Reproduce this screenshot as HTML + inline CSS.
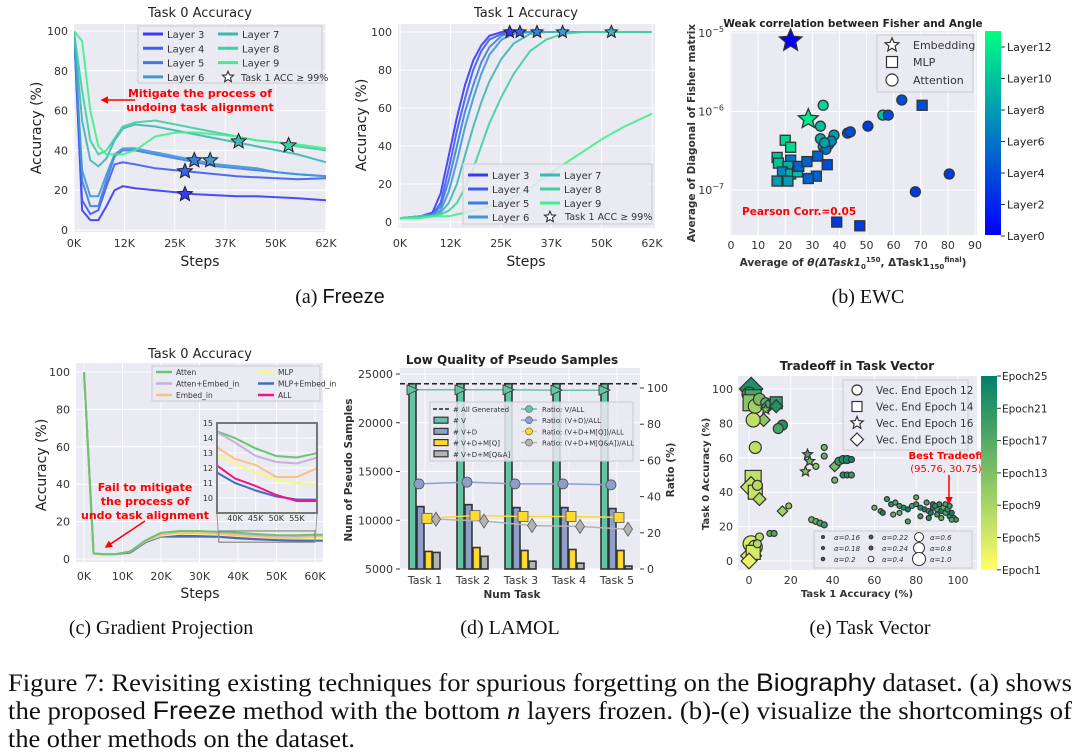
<!DOCTYPE html>
<html><head><meta charset="utf-8"><style>
html,body{margin:0;padding:0;background:#fff;}
svg{display:block;font-family:"DejaVu Sans","Liberation Sans",sans-serif;}
</style></head><body>
<svg id="fig" width="1080" height="753" viewBox="0 0 1080 753" xmlns="http://www.w3.org/2000/svg">
<defs>
<linearGradient id="winter" x1="0" y1="1" x2="0" y2="0"><stop offset="0" stop-color="#0000ff"/><stop offset="1" stop-color="#00ff80"/></linearGradient>
<linearGradient id="summer" x1="0" y1="1" x2="0" y2="0"><stop offset="0" stop-color="#ffff66"/><stop offset="1" stop-color="#008066"/></linearGradient>
<clipPath id="clipA"><rect x="74" y="24" width="252" height="208"/></clipPath>
<clipPath id="clipA2"><rect x="398" y="24" width="257" height="204"/></clipPath>
<clipPath id="clipC"><rect x="76" y="363" width="247" height="199"/></clipPath>
<clipPath id="clipIn"><rect x="217" y="423" width="100" height="90"/></clipPath>
<marker id="arr" viewBox="0 0 10 10" refX="8" refY="5" markerWidth="5" markerHeight="5" orient="auto"><path d="M0,0 L10,5 L0,10 z" fill="#f00"/></marker>
</defs>
</svg>
<script>
// ---------- DATA ----------
// (a) Task 0 accuracy under Freeze
const aSteps = [0,2,4,6,8,10,12,15,20,25,30,35,40,45,50,55,62];
const aL3 = [100,10,5,5,12,20,22,21,20,19,18,17.5,17,17,16.5,16,15];
const aL4 = [100,15,8,10,22,33,34,33,31,30,29,28,27,26.5,26,25.5,26];
const aL5 = [100,25,12,12,25,37,40,40,38,36,34,32,31,30,29,28,27];
const aL6 = [100,30,17,17,28,38,41,41,39,37,35,33,32,31,29,28,27];
const aL7 = [100,55,35,32,36,45,51,53,52,50,48,46,44,42,40,38,34];
const aL8 = [100,70,45,38,40,46,52,54,55,53,51,49,47,45,44,42,40];
const aL9 = [100,95,60,42,38,38,38,40,47,49,49,48,47,45,44,43,41];
const aStarX = [27.3,27.3,29.6,33.5,40.5,52.8];
const aStarY = [18,29.5,35,35,44.5,42.5];
// (a2) Task 1 accuracy
const bSteps = [0,5,8,10,12,14,16,18,20,22,25,28,32,36,40,45,50,55,62];
const bL3 = [2,3,5,15,35,55,72,85,93,98,100,100,100,100,100,100,100,100,100];
const bL4 = [2,3,4,10,28,48,65,80,90,96,99,100,100,100,100,100,100,100,100];
const bL5 = [2,3,4,8,22,40,58,72,84,92,98,100,100,100,100,100,100,100,100];
const bL6 = [2,3,4,6,16,32,50,65,78,88,96,99,100,100,100,100,100,100,100];
const bL7 = [2,3,3,5,10,20,35,50,63,74,86,94,99,100,100,100,100,100,100];
const bL8 = [2,3,3,4,6,10,18,28,40,52,66,78,90,96,99,100,100,100,100];
const bL9 = [2,2,3,3,3,4,5,6,7,8,10,13,18,24,30,37,44,50,57];
const bStarX = [27,29.5,33.7,40,52];
// (b) EWC scatter
const ewcAngle = [22,28.5, 34,33,63,56,58,50.5,43,44,38,33,34,36,35,37,34.5,68,80.5, 70.5,20,22,17,17.5,22,21,19,22,24.5,25,28,32,35.5,31.5,28.5,17,21,39,47.5];
const ewcFisher = [8e-6,8e-7, 1.2e-6,6.5e-7,1.4e-6,9e-7,9e-7,6.5e-7,5.3e-7,5.5e-7,5e-7,4.5e-7,3.6e-7,3.8e-7,3.3e-7,4.2e-7,4e-7,9.5e-8,1.6e-7, 1.2e-6,4.3e-7,3.5e-7,2.6e-7,2.2e-7,2.4e-7,2e-7,1.7e-7,1.6e-7,1.7e-7,2e-7,2.3e-7,2.7e-7,2.1e-7,1.5e-7,1.4e-7,1.3e-7,1.3e-7,3.9e-8,3.5e-8];
const ewcLayer = [0,12, 11,10,4,10,4,3,4,4,8,9,9,9,6,7,8,3,3, 4,11,11,10,10,6,9,7,9,10,5,5,5,4,5,5,8,8,3,3];
const ewcType = ['s','s','c','c','c','c','c','c','c','c','c','c','c','c','c','c','c','c','c','q','q','q','q','q','q','q','q','q','q','q','q','q','q','q','q','q','q','q','q'];
// (c) Gradient projection
const cSteps = [0,2.5,5,8,12,16,20,25,30,35,40,45,50,55,60,62];
const cAtten = [100,3,2.5,2.5,4,10,14,15,15,14.5,14,13.3,12.8,12.7,13,13];
const cAttEmb = [100,3,2.5,2.5,4,10,14,14.8,14.8,14.5,13.7,12.8,12.4,12.3,12.7,12.7];
const cEmbed = [100,3,2.5,2.5,4,9.5,13,14,13.8,13.5,12.6,12.2,11.4,11.4,12,12.1];
const cMLP = [100,3,2.5,2.5,4,9.5,12.5,13.5,13.3,13,12.3,11.7,11.2,11,10.9,10.9];
const cMLPEmb = [100,3,2.5,2.5,3.5,9,12,12,12,11.8,11,10.5,10.1,9.9,9.9,9.9];
const cAll = [100,3,2.5,2.5,3.5,9,12.5,12.8,12.6,12.3,11.3,10.8,10.2,9.8,9.8,9.8];
// (d) LAMOL
const dTasks = ['Task 1','Task 2','Task 3','Task 4','Task 5'];
const dV = [24000,24000,24000,24000,24000];
const dVD = [11400,11600,11300,11300,11200];
const dVDQ = [6800,7200,6900,7000,6900];
const dVDQA = [6700,6300,5800,5600,5300];
const dAll = 24000;
const rV = [99,99,99,98.8,98.8];
const rVD = [47,48,47,47,46.5];
const rVDQ = [28,29.5,29,29,28.5];
const rVDQA = [27.5,26.5,24,23.5,22];
// (e) Task vector scatter
const eT1 = [1,0,2,1,3,5,8,9,13,13,8,7,2,16,14,3, 28,29,32,27,36,36,41,43,45,47,49,45,47,49,41, 2,1,3,4,5,16,19,10,12,30,32,34,36, 1,3,1,2,5,4,0, 60,63,66,68,70,72,74,76,78,80,80,82,84,85,86,88,88,90,90,91,92,93,94,95,96,97,98,99,72,76,82,86,64,69,94,96,89,87,92,97];
const eT0 = [100,97,95,92,90,94,92,90,92,90,88,82,82,79,77,66, 62,58,55,52,66,61,55,58,59,59,59,50,50,50,47, 48,43,40,44,36,29,32,16,16,24,23,22,21, 10,8,3,5,14,10,0, 31,29,36,33,34,32,31,30,32,33,37,31,30,34,29,31,33,30,27,33,29,31,28,30,26,28,25,24,28,23,26,25,28,27,33,32,32,28,25,24];
const eSize = [9,7,8,8,7,6,5,5,6,5,4,5,7,5,5,6, 4,4,3,4,3,3,4,4,4,4,3,3,3,3,3, 8,8,7,5,5,4,3,3,3,3,3,3,3, 8,7,8,7,4,4,6, 2.5,2.5,2.5,2.5,2.5,2.5,2.5,2.5,2.5,2.5,2.5,2.5,2.5,2.5,2.5,2.5,2.5,2.5,2.5,2.5,2.5,2.5,2.5,2.5,2.5,2.5,2.5,2.5,2.5,2.5,2.5,2.5,2.5,2.5,2.5,2.5,2.5,2.5,2.5,2.5];
const eEpoch = [22,20,18,12,10,14,16,18,20,22,14,12,7,22,18,7, 18,14,12,12,14,16,14,20,22,23,24,22,22,20,14, 7,6,6,8,8,10,12,16,18,14,16,18,20, 5,6,4,5,8,8,3, 16,18,20,22,18,20,22,24,18,20,16,22,24,18,20,22,24,18,20,22,24,16,18,20,22,24,18,20,16,18,20,22,24,16,18,20,22,24,16,18];
const eShape = [3,0,1,1,0,0,0,3,1,3,2,3,0,0,0,0, 2,2,0,2,0,0,3,0,0,0,0,0,0,0,0, 1,3,1,0,3,3,0,0,0,0,0,0,0, 0,0,3,1,0,0,3, 0,0,0,0,0,0,0,0,0,0,0,0,0,0,0,0,0,0,0,0,0,0,0,0,0,0,0,0,0,0,0,0,0,0,0,0,0,0,0,0];

// ---------- HELPERS ----------
const NS='http://www.w3.org/2000/svg';
const svg=document.getElementById('fig');
function E(tag,a,p){const e=document.createElementNS(NS,tag);for(const k in a)e.setAttribute(k,a[k]);(p||svg).appendChild(e);return e;}
function T(x,y,s,a,p){const e=E('text',Object.assign({x:x,y:y},a),p);e.textContent=s;return e;}
function G(name){const g=E('g',{});return g;}
function pathOf(xs,ys,fx,fy){return xs.map((v,i)=>(i?'L':'M')+fx(v).toFixed(1)+','+fy(ys[i]).toFixed(1)).join(' ');}
function star(cx,cy,r){let d='';for(let i=0;i<10;i++){const rr=i%2?r*0.45:r;const a=-Math.PI/2+i*Math.PI/5;d+=(i?'L':'M')+(cx+rr*Math.cos(a)).toFixed(1)+','+(cy+rr*Math.sin(a)).toFixed(1);}return d+'Z';}
function marker(g,shape,x,y,r,fill,stroke,sw){
  let e;
  if(shape==='c'||shape===0) e=E('circle',{cx:x,cy:y,r:r,fill:fill,stroke:stroke,'stroke-width':sw},g);
  else if(shape==='q'||shape===1) e=E('rect',{x:x-r,y:y-r,width:2*r,height:2*r,fill:fill,stroke:stroke,'stroke-width':sw},g);
  else if(shape==='s'||shape===2) e=E('path',{d:star(x,y,r*1.3),fill:fill,stroke:stroke,'stroke-width':sw},g);
  else e=E('path',{d:`M${x},${y-r*1.3}L${x+r*1.3},${y}L${x},${y+r*1.3}L${x-r*1.3},${y}Z`,fill:fill,stroke:stroke,'stroke-width':sw},g);
  return e;
}
function winter(l){const t=l/13;return `rgb(0,${Math.round(255*t)},${Math.round(255*(1-0.5*t))})`;}
function summer(ep){const t=1-(ep-1)/24;return `rgb(${Math.round(255*t)},${Math.round(128+127*t)},102)`;}
function bg(g,x,y,w,h){const r=E('rect',{x:x,y:y,width:w,height:h,fill:'#eaeaf2'},g);}
function grid(g,x1,y1,x2,y2){E('line',{x1:x1,y1:y1,x2:x2,y2:y2,stroke:'#fff','stroke-width':1},g);}
const TK={'font-size':11,fill:'#333'};

// ---------- PANEL (a) ----------
(function(){
const g=G('panel-a-task0');
const xs=k=>74+k/62*252, ys=v=>230-v*1.99;
bg(g,74,24,252,208);
const xt=[0,12.4,24.8,37.2,49.6,62], xl=['0K','12K','25K','37K','50K','62K'];
xt.forEach((k,i)=>{grid(g,xs(k),24,xs(k),232);const t=T(xs(k),247,xl[i],Object.assign({'text-anchor':'middle'},TK),g);});
[0,20,40,60,80,100].forEach(v=>{grid(g,74,ys(v),326,ys(v));const t=T(68,ys(v)+4,v,Object.assign({'text-anchor':'end'},TK),g);});
const tt=T(200,17,'Task 0 Accuracy',{'text-anchor':'middle','font-size':13,fill:'#222'},g);
const xt2=T(200,266,'Steps',{'text-anchor':'middle','font-size':14,fill:'#222'},g);
const yt=T(0,0,'Accuracy (%)',{'text-anchor':'middle','font-size':14,fill:'#222',transform:'translate(41,128) rotate(-90)'},g);
const series=[aL3,aL4,aL5,aL6,aL7,aL8,aL9], cols=['#3a3af5','#3d5cf0','#3f7ce2','#3f98d4','#3fb5b5','#3fd0a0','#40ef8c'];
const lg=E('g',{'clip-path':'url(#clipA)'},g);
series.forEach((s,i)=>{const p=E('path',{d:pathOf(aSteps,s,xs,ys),fill:'none',stroke:cols[i],'stroke-width':2,'stroke-opacity':0.9},lg);});
aStarX.forEach((k,i)=>{const m=marker(g,'s',xs(k),ys(aStarY[i]),6,cols[i],'#222',1);});
const lb=E('rect',{x:138,y:26,width:184,height:57,fill:'#eaeaf2',stroke:'#ccc','fill-opacity':0.8},g);
const names=['Layer 3','Layer 4','Layer 5','Layer 6','Layer 7','Layer 8','Layer 9'];
names.forEach((n,i)=>{const cx=i<4?143:218, cy=34+(i%4)*14.3;E('line',{x1:cx,y1:cy,x2:cx+20,y2:cy,stroke:cols[i],'stroke-width':3},g);const t=T(cx+24,cy+4,n,{'font-size':10,fill:'#333'},g);});
marker(g,'s',228,77,4.5,'#fff','#222',1);
T(241,81,'Task 1 ACC ≥ 99%',{'font-size':9.5,fill:'#333'},g);
E('line',{x1:135,y1:100,x2:102,y2:100,stroke:'#f00','stroke-width':1.5,'marker-end':'url(#arr)'},g);
const an=T(200,97,'Mitigate the process of',{'text-anchor':'middle','font-size':11,'font-weight':'bold',fill:'#f00'},g);
T(200,111,'undoing task alignment',{'text-anchor':'middle','font-size':11,'font-weight':'bold',fill:'#f00'},g);
})();

// ---------- PANEL (a2) ----------
(function(){
const g=G('panel-a-task1');
const xs=k=>400+k/62*252, ys=v=>222-v*1.9;
bg(g,398,24,257,204);
const xt=[0,12.4,24.8,37.2,49.6,62], xl=['0K','12K','25K','37K','50K','62K'];
xt.forEach((k,i)=>{grid(g,xs(k),24,xs(k),228);const t=T(xs(k),247,xl[i],Object.assign({'text-anchor':'middle'},TK),g);});
[0,20,40,60,80,100].forEach(v=>{grid(g,398,ys(v),655,ys(v));const t=T(392,ys(v)+4,v,Object.assign({'text-anchor':'end'},TK),g);});
const tt=T(526,17,'Task 1 Accuracy',{'text-anchor':'middle','font-size':13,fill:'#222'},g);
const xt2=T(526,266,'Steps',{'text-anchor':'middle','font-size':14,fill:'#222'},g);
const yt=T(0,0,'Accuracy (%)',{'text-anchor':'middle','font-size':14,fill:'#222',transform:'translate(366,125) rotate(-90)'},g);
const series=[bL3,bL4,bL5,bL6,bL7,bL8,bL9], cols=['#3a3af5','#3d5cf0','#3f7ce2','#3f98d4','#3fb5b5','#3fd0a0','#40ef8c'];
const lg=E('g',{'clip-path':'url(#clipA2)'},g);
series.forEach((s,i)=>{const p=E('path',{d:pathOf(bSteps,s,xs,ys),fill:'none',stroke:cols[i],'stroke-width':2,'stroke-opacity':0.9},lg);});
bStarX.forEach((k,i)=>{const m=marker(g,'s',xs(k),ys(100),5,cols[i],'#222',1);});
const lb=E('rect',{x:463,y:164,width:189,height:60,fill:'#eaeaf2',stroke:'#ccc','fill-opacity':0.85},g);
const names=['Layer 3','Layer 4','Layer 5','Layer 6','Layer 7','Layer 8','Layer 9'];
names.forEach((n,i)=>{const cx=i<4?468:540, cy=175+(i%4)*14;E('line',{x1:cx,y1:cy,x2:cx+20,y2:cy,stroke:cols[i],'stroke-width':3},g);const t=T(cx+24,cy+4,n,{'font-size':10,fill:'#333'},g);});
marker(g,'s',550,217,4.5,'#fff','#222',1);
T(565,220,'Task 1 ACC ≥ 99%',{'font-size':9.5,fill:'#333'},g);
})();

// ---------- PANEL (b) ----------
(function(){
const g=G('panel-b-ewc');
const xs=v=>731+v*244/90, ys=v=>33+(-5-Math.log10(v))*78.5;
bg(g,730,31,247,204);
for(let v=0;v<=90;v+=10){grid(g,xs(v),31,xs(v),235);const t=T(xs(v),249,v,Object.assign({'text-anchor':'middle'},TK),g);}
[-5,-6,-7].forEach(p=>{const y=ys(Math.pow(10,p));grid(g,730,y,977,y);const t=E('text',{x:724,y:y+4,'text-anchor':'end','font-size':11,fill:'#333'},g);t.innerHTML='10<tspan dy="-5" font-size="8">−'+(-p)+'</tspan>';});
const tt=T(853,27,'Weak correlation between Fisher and Angle',{'text-anchor':'middle','font-size':10.5,'font-weight':'bold',fill:'#222'},g);
const xt=E('text',{x:853,y:266,'text-anchor':'middle','font-size':10.5,'font-weight':'bold',fill:'#333'},g);
xt.innerHTML='Average of <tspan font-style="italic">θ(ΔTask1</tspan><tspan font-size="7" dy="3">0</tspan><tspan font-size="7" dy="-7">150</tspan><tspan dy="4">, ΔTask1</tspan><tspan font-size="7" dy="3">150</tspan><tspan font-size="7" dy="-7">final</tspan><tspan dy="4">)</tspan>';
const yt=T(0,0,'Average of Diagonal of Fisher matrix',{'text-anchor':'middle','font-size':10.5,'font-weight':'bold',fill:'#333',transform:'translate(695,133) rotate(-90)'},g);
ewcAngle.forEach((a,i)=>{const r=ewcType[i]==='s'?8:5;const m=marker(g,ewcType[i],xs(a),ys(ewcFisher[i]),ewcType[i]==='s'?(i===0?9:8):r,winter(ewcLayer[i]),'#333',1.3);});
const lb=E('rect',{x:877,y:35,width:96,height:57,fill:'#eaeaf2',stroke:'#ccc'},g);
marker(g,'s',892,45,5.5,'#fff','#333',1.2);marker(g,'q',892,62,5.5,'#fff','#333',1.2);marker(g,'c',892,80,6,'#fff','#333',1.2);
['Embedding','MLP','Attention'].forEach((n,i)=>{const t=T(913,[49,66,84][i],n,{'font-size':11,fill:'#333'},g);});
const pc=T(742,215,'Pearson Corr.=0.05',{'font-size':10.5,'font-weight':'bold',fill:'#f00'},g);
const cb=E('rect',{x:985,y:31,width:16,height:204,fill:'url(#winter)'},g);
['Layer12','Layer10','Layer8','Layer6','Layer4','Layer2','Layer0'].forEach((n,i)=>{const y=47+i*31.5;E('line',{x1:1001,y1:y,x2:1005,y2:y,stroke:'#333'},g);const t=T(1007,y+4,n,{'font-size':11,fill:'#222'},g);});
})();

// ---------- PANEL (c) ----------
(function(){
const g=G('panel-c-gradient-projection');
const xs=k=>84+k*3.85, ys=v=>559-v*1.87;
bg(g,76,363,247,199);
[0,10,20,30,40,50,60].forEach(k=>{grid(g,xs(k),363,xs(k),562);const t=T(xs(k),580,k+'K',Object.assign({'text-anchor':'middle'},TK),g);});
[0,20,40,60,80,100].forEach(v=>{grid(g,76,ys(v),323,ys(v));const t=T(70,ys(v)+4,v,Object.assign({'text-anchor':'end'},TK),g);});
const tt=T(200,358,'Task 0 Accuracy',{'text-anchor':'middle','font-size':13,fill:'#222'},g);
const xt=T(200,598,'Steps',{'text-anchor':'middle','font-size':14,fill:'#222'},g);
const yt=T(0,0,'Accuracy (%)',{'text-anchor':'middle','font-size':14,fill:'#222',transform:'translate(46,465) rotate(-90)'},g);
const series=[cAtten,cAttEmb,cEmbed,cMLP,cMLPEmb,cAll], cols=['#6cc46c','#c8b0dc','#fdbf85','#f8f880','#3f6fc0','#f0148c'];
const names=['Atten','Atten+Embed_in','Embed_in','MLP','MLP+Embed_in','ALL'];
const lg=E('g',{'clip-path':'url(#clipC)'},g);
[5,4,3,2,1,0].forEach(i=>{const p=E('path',{d:pathOf(cSteps,series[i],xs,ys),fill:'none',stroke:cols[i],'stroke-width':2},lg);});
E('rect',{x:xs(35),y:ys(15),width:xs(60)-xs(35),height:ys(9)-ys(15),fill:'none',stroke:'#888','stroke-width':1.2},g);
E('line',{x1:217,y1:513,x2:xs(35),y2:ys(9),stroke:'#999'},g);E('line',{x1:317,y1:513,x2:xs(60),y2:ys(9),stroke:'#999'},g);
const ix=k=>235+(k-40)*4.13, iy=v=>498-(v-10)*15;
const ib=E('rect',{x:217,y:423,width:100,height:90,fill:'#eaeaf2',stroke:'#777','stroke-width':2},g);
const ilg=E('g',{'clip-path':'url(#clipIn)'},g);
[40,45,50,55].forEach(k=>{grid(ilg,ix(k),423,ix(k),513);T(ix(k),521,k+'K',{'text-anchor':'middle','font-size':8,fill:'#333'},g);});
[10,11,12,13,14,15].forEach(v=>{grid(ilg,217,iy(v),317,iy(v));T(213,iy(v)+3,v,{'text-anchor':'end','font-size':8,fill:'#333'},g);});
[0,1,2,3,4,5].forEach(i=>{const p=E('path',{d:pathOf(cSteps,series[i],ix,iy),fill:'none',stroke:cols[i],'stroke-width':2},ilg);});
E('rect',{x:217,y:423,width:100,height:90,fill:'none',stroke:'#777','stroke-width':2},g);
const lb=E('rect',{x:152,y:366,width:168,height:35,fill:'#eaeaf2',stroke:'#ccc'},g);
names.forEach((n,i)=>{const cx=i<3?156:258, cy=372+(i%3)*11.5;E('line',{x1:cx,y1:cy,x2:cx+16,y2:cy,stroke:cols[i],'stroke-width':2.5},g);const t=T(cx+20,cy+3,n,{'font-size':7.5,fill:'#333'},g);});
E('line',{x1:145,y1:521,x2:106,y2:547,stroke:'#f00','stroke-width':1.5,'marker-end':'url(#arr)'},g);
['Fail to mitigate','the process of','undo task alignment'].forEach((s,i)=>{const t=T(145,491+i*14,s,{'text-anchor':'middle','font-size':11,'font-weight':'bold',fill:'#f00'},g);});
})();

// ---------- PANEL (d) ----------
(function(){
const g=G('panel-d-lamol');
const ysL=v=>569-(v-5000)/20000*195, ysR=r=>569-r*1.81, xc=i=>425+i*48;
bg(g,400,368,240,201);
dTasks.forEach((n,i)=>{grid(g,xc(i),368,xc(i),569);const t=T(xc(i),584,n,Object.assign({'text-anchor':'middle'},TK),g);});
[5000,10000,15000,20000,25000].forEach(v=>{grid(g,400,ysL(v),640,ysL(v));E('line',{x1:396,y1:ysL(v),x2:400,y2:ysL(v),stroke:'#333'},g);const t=T(393,ysL(v)+4,v,Object.assign({'text-anchor':'end'},TK),g);});
[0,20,40,60,80,100].forEach(r=>{E('line',{x1:640,y1:ysR(r),x2:644,y2:ysR(r),stroke:'#333'},g);const t=T(647,ysR(r)+4,r,TK,g);});
const tt=T(512,364,'Low Quality of Pseudo Samples',{'text-anchor':'middle','font-size':12,'font-weight':'bold',fill:'#222'},g);
const xt=T(512,598,'Num Task',{'text-anchor':'middle','font-size':10.5,'font-weight':'bold',fill:'#333'},g);
const yt=T(0,0,'Num of Pseudo Samples',{'text-anchor':'middle','font-size':10.5,'font-weight':'bold',fill:'#333',transform:'translate(352,470) rotate(-90)'},g);
const yt2=T(0,0,'Ratio (%)',{'text-anchor':'middle','font-size':10.5,'font-weight':'bold',fill:'#333',transform:'translate(674,470) rotate(-90)'},g);
const bars=[dV,dVD,dVDQ,dVDQA], bcol=['#66c2a5','#8da0cb','#ffd92f','#b3b3b3'];
bars.forEach((s,j)=>s.forEach((v,i)=>{const x=xc(i)-16+j*8;const b=E('rect',{x:x,y:ysL(v),width:7,height:569-ysL(v),fill:bcol[j],stroke:'#333','stroke-width':1.6},g);}));
const dl=E('line',{x1:400,y1:ysL(dAll),x2:640,y2:ysL(dAll),stroke:'#222','stroke-width':1.6,'stroke-dasharray':'5,3'},g);
const rs=[rV,rVD,rVDQ,rVDQA], off=[-13,-6,2,11], shp=['t','c','q','d'];
rs.forEach((s,j)=>{const xx=s.map((v,i)=>i);E('path',{d:pathOf(xx,s,i=>xc(i)+off[j],ysR),fill:'none',stroke:bcol[j],'stroke-width':1.5},g);
 s.forEach((r,i)=>{const x=xc(i)+off[j],y=ysR(r);let m;
  if(shp[j]==='t')m=E('path',{d:`M${x-5},${y-5}L${x+6},${y}L${x-5},${y+5}Z`,fill:bcol[j],stroke:'#333','stroke-width':0.8},g);
  else if(shp[j]==='c')m=E('circle',{cx:x,cy:y,r:5,fill:bcol[j],stroke:'#555','stroke-width':0.8},g);
  else if(shp[j]==='q')m=E('rect',{x:x-5,y:y-5,width:10,height:10,fill:bcol[j],stroke:'#555','stroke-width':0.8},g);
  else m=E('path',{d:`M${x},${y-7}L${x+4.5},${y}L${x},${y+7}L${x-4.5},${y}Z`,fill:bcol[j],stroke:'#555','stroke-width':0.8},g);
  });});
const lb=E('rect',{x:430,y:402,width:203,height:59,fill:'#eaeaf2',stroke:'#ccc','fill-opacity':0.85},g);
E('line',{x1:433,y1:409,x2:449,y2:409,stroke:'#222','stroke-width':1.5,'stroke-dasharray':'4,2'},g);
const l1=['# All Generated','# V','# V+D','# V+D+M[Q]','# V+D+M[Q&A]'];
l1.forEach((n,i)=>{const y=409+i*11.2;if(i>0)E('rect',{x:434,y:y-3,width:14,height:6,fill:bcol[i-1],stroke:'#333','stroke-width':1.2},g);const t=T(453,y+3,n,{'font-size':7,fill:'#333'},g);});
const l2=['Ratio: V/ALL','Ratio: (V+D)/ALL','Ratio: (V+D+M[Q])/ALL','Ratio: (V+D+M[Q&A])/ALL'];
l2.forEach((n,i)=>{const y=409+i*11.2;E('line',{x1:521,y1:y,x2:537,y2:y,stroke:bcol[i],'stroke-width':1.5},g);E('circle',{cx:529,cy:y,r:3.5,fill:bcol[i],stroke:'#555','stroke-width':0.6},g);const t=T(542,y+3,n,{'font-size':7,fill:'#333'},g);});
})();

// ---------- PANEL (e) ----------
(function(){
const g=G('panel-e-task-vector');
const xs=v=>749+v*2.09, ys=v=>561-v*1.72;
bg(g,738,376,239,194);
[0,20,40,60,80,100].forEach(v=>{grid(g,xs(v),376,xs(v),570);const t=T(xs(v),584,v,Object.assign({'text-anchor':'middle'},TK),g);grid(g,738,ys(v),977,ys(v));const u=T(733,ys(v)+4,v,Object.assign({'text-anchor':'end'},TK),g);});
const tt=T(857,370,'Tradeoff in Task Vector',{'text-anchor':'middle','font-size':12,'font-weight':'bold',fill:'#222'},g);
const xt=T(857,597,'Task 1 Accuracy (%)',{'text-anchor':'middle','font-size':10,'font-weight':'bold',fill:'#333'},g);
const yt=T(0,0,'Task 0 Accuracy (%)',{'text-anchor':'middle','font-size':10,'font-weight':'bold',fill:'#333',transform:'translate(709,474) rotate(-90)'},g);
eT1.forEach((a,i)=>{const m=marker(g,eShape[i],xs(a),ys(eT0[i]),eSize[i],summer(eEpoch[i]),'#333',1.2);});
const lb=E('rect',{x:843,y:380,width:125,height:70,fill:'#eaeaf2',stroke:'#ccc','fill-opacity':0.9},g);
['Vec. End Epoch 12','Vec. End Epoch 14','Vec. End Epoch 16','Vec. End Epoch 18'].forEach((n,i)=>{const y=390+i*16.5;marker(g,i,857,y,5,'#fff','#333',1.2);const t=T(876,y+4,n,{'font-size':10.5,fill:'#333'},g);});
const sb=E('rect',{x:814,y:531,width:158,height:37,fill:'#eaeaf2',stroke:'#ccc'},g);
const al=['α=0.16','α=0.18','α=0.2','α=0.22','α=0.24','α=0.4','α=0.6','α=0.8','α=1.0'], ar=[1.5,1.6,1.8,1.9,2,2.8,4.5,5.5,6.5];
al.forEach((n,i)=>{const c=Math.floor(i/3),r=i%3;const x=823+c*48,y=537+r*11;E('circle',{cx:x,cy:y,r:ar[i],fill:i<5?'#555':'#fff',stroke:'#333','stroke-width':1},g);const t=T(x+11,y+3,n,{'font-size':7,'font-style':'italic',fill:'#333'},g);});
E('line',{x1:949,y1:475,x2:949,y2:503,stroke:'#f00','stroke-width':1.5,'marker-end':'url(#arr)'},g);
const an=T(946,459,'Best Tradeoff',{'text-anchor':'middle','font-size':10,'font-weight':'bold',fill:'#f00'},g);
T(946,472,'(95.76, 30.75)',{'text-anchor':'middle','font-size':10,fill:'#f00'},g);
const cb=E('rect',{x:981,y:376,width:16,height:194,fill:'url(#summer)'},g);
['Epoch25','Epoch21','Epoch17','Epoch13','Epoch9','Epoch5','Epoch1'].forEach((n,i)=>{const y=376+i*32.3;E('line',{x1:997,y1:y,x2:1001,y2:y,stroke:'#333'},g);const t=T(1002,y+4,n,{'font-size':10.5,fill:'#222'},g);});
})();

// ---------- CAPTIONS ----------
(function(){
const g=G('captions');
const caps=[[340,303,'(a) ','Freeze'],[868,303,'(b) EWC',''],[161,634,'(c) Gradient Projection',''],[510,634,'(d) LAMOL',''],[870,634,'(e) Task Vector','']];
caps.forEach(c=>{const t=E('text',{x:c[0],y:c[1],'text-anchor':'middle','font-size':20,'font-family':'Liberation Serif, serif',fill:'#111'},g);t.innerHTML=c[2]+(c[3]?'<tspan font-family="Liberation Sans, sans-serif">'+c[3]+'</tspan>':'');});
const ln=[[691,'Figure 7: Revisiting existing techniques for spurious forgetting on the <tspan font-family="Liberation Sans, sans-serif">Biography</tspan> dataset. (a) shows',1064],[719,'the proposed <tspan font-family="Liberation Sans, sans-serif">Freeze</tspan> method with the bottom <tspan font-style="italic">n</tspan> layers frozen. (b)-(e) visualize the shortcomings of',1064],[747,'the other methods on the dataset.',347]];
ln.forEach(l=>{const a={x:8,y:l[0],'font-size':25,'font-family':'Liberation Serif, serif',fill:'#111',textLength:l[2],lengthAdjust:'spacingAndGlyphs'};const t=E('text',a,g);t.innerHTML=l[1];});
})();
</script>
</body></html>
